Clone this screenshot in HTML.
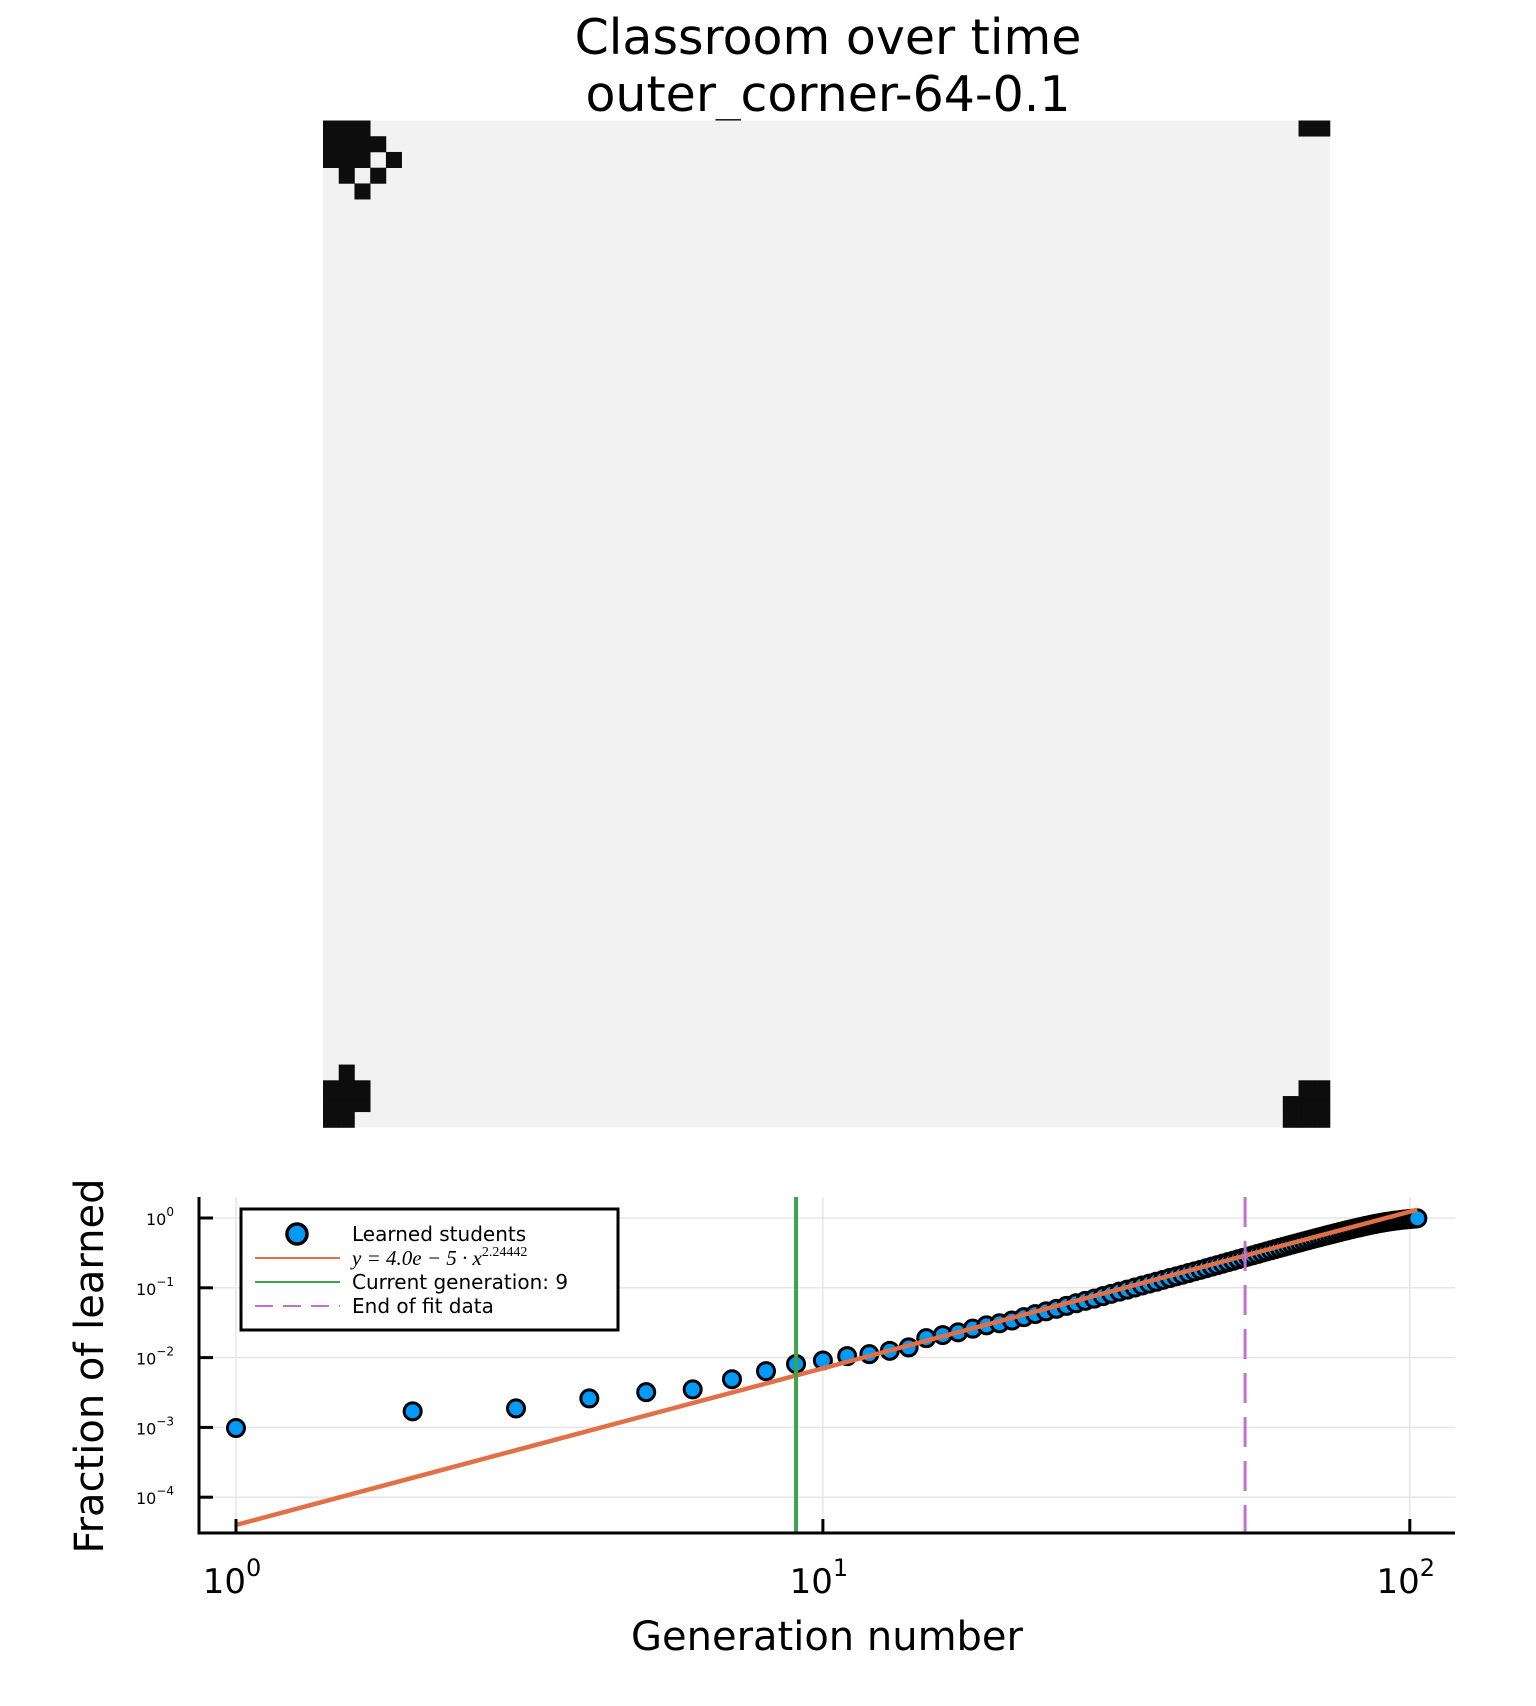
<!DOCTYPE html>
<html><head><meta charset="utf-8">
<style>
html,body{margin:0;padding:0;background:#fff;}
svg{display:block;font-family:"DejaVu Sans","Liberation Sans",sans-serif;}
</style></head>
<body>
<svg id="fig" width="1536" height="1706" viewBox="0 0 1536 1706" xmlns="http://www.w3.org/2000/svg">
  <rect x="0" y="0" width="1536" height="1706" fill="#fff"/>
  <text x="828" y="54" font-size="49" text-anchor="middle" fill="#000">Classroom over time</text>
  <text x="828" y="111" font-size="49" text-anchor="middle" fill="#000">outer_corner-64-0.1</text>
  <g id="heat"></g>
  <g id="plot"></g>
</svg>
<script>
// ---- heatmap data: learned cells [row, col] in 64x64 grid at generation 9
const gridSize = 64;
const learnedRows = [0,0,0, 0,0, 1,1,1,1, 2,2,2,2, 3,3, 4, 60, 61,61,61, 62,62,62, 63,63, 61,61, 62,62,62, 63,63,63];
const learnedCols = [0,1,2, 62,63, 0,1,2,3, 0,1,2,4, 1,3, 2, 1, 0,1,2, 0,1,2, 0,1, 62,63, 61,62,63, 61,62,63];

// ---- line chart data
const generations = [];
for (let i = 1; i <= 103; i++) generations.push(i);
const fractions = [0.00098,0.0017,0.00187,0.0026,0.0032,0.0035,0.0049,0.0064,0.0081,0.0091,
0.0105,0.0112,0.0125,0.014,0.019,0.021,0.023,0.026,0.029,0.031,
0.034,0.038,0.042,0.046,0.050,0.055,0.060,0.065,0.070,0.076,
0.082,0.088,0.094,0.101,0.108,0.115,0.122,0.130,0.138,0.146,
0.154,0.163,0.172,0.181,0.191,0.201,0.211,0.222,0.233,0.244,
0.256,0.268,0.280,0.292,0.305,0.318,0.331,0.345,0.359,0.373,
0.387,0.402,0.417,0.432,0.447,0.463,0.479,0.495,0.511,0.527,
0.544,0.561,0.578,0.595,0.612,0.630,0.647,0.665,0.682,0.700,
0.717,0.734,0.751,0.768,0.785,0.801,0.817,0.832,0.847,0.861,
0.875,0.888,0.900,0.912,0.923,0.933,0.943,0.952,0.960,0.968,
0.975,0.981,0.99];
const fitCoef = 4.0e-5;
const fitExp = 2.24442;
const fitRange = [1, 103];
const currentGeneration = 9;
const endOfFit = 52.4;
const xTickExps = [0, 1, 2];
const yTickExps = [0, -1, -2, -3, -4];
const legendLabels = ["Learned students", "Current generation: 9", "End of fit data"];

const NS = "http://www.w3.org/2000/svg";
function mk(tag, attrs, parent) {
  const e = document.createElementNS(NS, tag);
  for (const k in attrs) e.setAttribute(k, attrs[k]);
  parent.appendChild(e);
  return e;
}

// heatmap
const heat = document.getElementById('heat');
const hx0 = 323, hy0 = 120.5, hs = 1007;
const cell = hs / gridSize;
const bg = mk('rect', {x: hx0, y: hy0, width: hs, height: hs, fill: '#f2f2f2'}, heat);


for (let i = 0; i < learnedRows.length; i++) {
  const r = mk('rect', {x: hx0 + learnedCols[i] * cell, y: hy0 + learnedRows[i] * cell, width: cell + 0.3, height: cell + 0.3, fill: '#0d0d0d'}, heat);
  
  
}

// axes
const plot = document.getElementById('plot');
const L = 199, R = 1455, T = 1197, B = 1533;
const xLogMin = -0.063, xLogMax = 2.077;
const yLogMin = -4.513, yLogMax = 0.301;
function xs(v) { return L + (Math.log10(v) - xLogMin) / (xLogMax - xLogMin) * (R - L); }
function ys(v) { return B - (Math.log10(v) - yLogMin) / (yLogMax - yLogMin) * (B - T); }

// grid
xTickExps.forEach(e => {
  const x = xs(Math.pow(10, e));
  const g = mk('line', {x1: x, x2: x, y1: T, y2: B, stroke: '#e6e6e6', 'stroke-width': 1.5}, plot);
  
  
});
yTickExps.forEach(e => {
  const y = ys(Math.pow(10, e));
  const g = mk('line', {x1: L, x2: R, y1: y, y2: y, stroke: '#e6e6e6', 'stroke-width': 1.5}, plot);
  
  
});

// clip
const defs = mk('defs', {}, plot);
const cp = mk('clipPath', {id: 'clip'}, defs);
mk('rect', {x: L, y: T, width: R - L, height: B - T}, cp);
const inner = mk('g', {'clip-path': 'url(#clip)'}, plot);



// scatter
generations.forEach((g, i) => {
  const c = mk('circle', {cx: xs(g), cy: ys(fractions[i]), r: 8.5, fill: '#009af9', stroke: '#000', 'stroke-width': 3}, inner);
  
  
});

// fit line
const f0 = fitCoef * Math.pow(fitRange[0], fitExp), f1 = fitCoef * Math.pow(fitRange[1], fitExp);
const fit = mk('line', {x1: xs(fitRange[0]), y1: ys(f0), x2: xs(fitRange[1]), y2: ys(f1), stroke: '#e26f46', 'stroke-width': 4.5}, inner);



// current generation
const cg = mk('line', {x1: xs(currentGeneration), x2: xs(currentGeneration), y1: T, y2: B, stroke: '#3da44d', 'stroke-width': 4}, inner);



// end of fit
const ef = mk('line', {x1: xs(endOfFit), x2: xs(endOfFit), y1: T, y2: B, stroke: '#c271d2', 'stroke-width': 3, 'stroke-dasharray': '30 14'}, inner);



// axis lines
const ax1 = mk('line', {x1: L, x2: L, y1: T, y2: B + 1.5, stroke: '#000', 'stroke-width': 3}, plot);


const ax2 = mk('line', {x1: L - 1.5, x2: R, y1: B, y2: B, stroke: '#000', 'stroke-width': 3}, plot);



// ticks + labels
xTickExps.forEach(e => {
  const x = xs(Math.pow(10, e));
  const t = mk('line', {x1: x, x2: x, y1: B, y2: B - 14, stroke: '#000', 'stroke-width': 3}, plot);
  
  
  const tx = mk('text', {x: x - 4, y: 1593, 'font-size': 34, 'text-anchor': 'middle'}, plot);
  
  
  tx.textContent = '10';
  const sp = mk('tspan', {'font-size': 24, dy: -17}, tx);
  sp.textContent = String(e);
});
yTickExps.forEach(e => {
  const y = ys(Math.pow(10, e));
  const t = mk('line', {x1: L, x2: L + 14, y1: y, y2: y, stroke: '#000', 'stroke-width': 3}, plot);
  
  
  const tx = mk('text', {x: 174, y: y + 7, 'font-size': 16, 'text-anchor': 'end'}, plot);
  
  
  tx.textContent = '10';
  const sp = mk('tspan', {'font-size': 12, dy: -9}, tx);
  sp.textContent = e === 0 ? '0' : '\u2212' + String(-e);
});

// axis titles
const xt = mk('text', {x: 827, y: 1650, 'font-size': 40, 'text-anchor': 'middle'}, plot);


xt.textContent = 'Generation number';
const yt = mk('text', {x: 0, y: 0, 'font-size': 40, 'text-anchor': 'middle', transform: 'translate(103,1366) rotate(-90)'}, plot);


yt.textContent = 'Fraction of learned';

// legend
const lg = mk('g', {}, plot);


mk('rect', {x: 241, y: 1209, width: 377, height: 121, fill: '#fff', stroke: '#000', 'stroke-width': 3}, lg);
const lc = mk('circle', {cx: 297, cy: 1234, r: 10, fill: '#009af9', stroke: '#000', 'stroke-width': 3.5}, lg);


const l1 = mk('line', {x1: 255, x2: 340, y1: 1258, y2: 1258, stroke: '#e26f46', 'stroke-width': 2}, lg);


const l2 = mk('line', {x1: 255, x2: 340, y1: 1282, y2: 1282, stroke: '#3da44d', 'stroke-width': 2}, lg);


const l3 = mk('line', {x1: 255, x2: 340, y1: 1306, y2: 1306, stroke: '#c271d2', 'stroke-width': 2, 'stroke-dasharray': '18 10'}, lg);


const t1 = mk('text', {x: 352, y: 1241, 'font-size': 20}, lg);


t1.textContent = legendLabels[0];
const t2 = mk('text', {x: 352, y: 1265, 'font-size': 21, 'font-style': 'italic', 'font-family': '"Liberation Serif","DejaVu Serif",serif'}, lg);


t2.textContent = 'y = 4.0e \u2212 5 \u00b7 x';
const t2s = mk('tspan', {'font-size': 14, dy: -9, 'font-style': 'normal'}, t2);
t2s.textContent = '2.24442';
const t3 = mk('text', {x: 352, y: 1289, 'font-size': 20}, lg);


t3.textContent = legendLabels[1];
const t4 = mk('text', {x: 352, y: 1313, 'font-size': 20}, lg);


t4.textContent = legendLabels[2];
</script>
</body></html>
